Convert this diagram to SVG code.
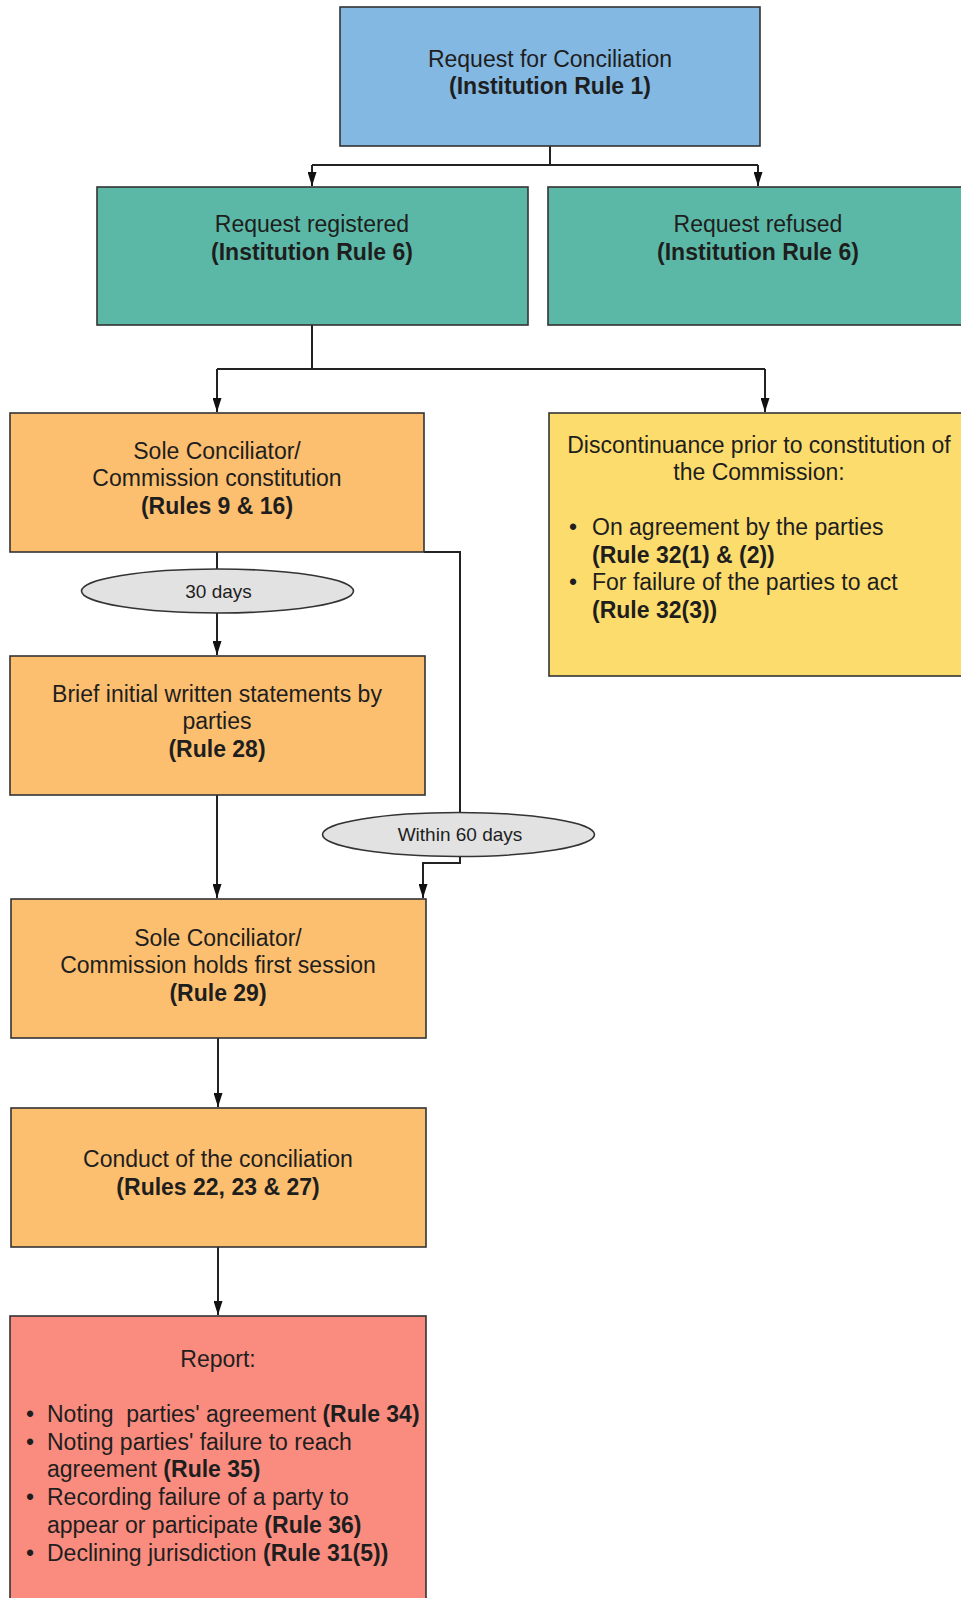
<svg xmlns="http://www.w3.org/2000/svg" width="961" height="1598" viewBox="0 0 961 1598">
<style>
.box{stroke:#333;stroke-width:1.6}
.blue{fill:#83b8e2}
.green{fill:#5cb8a6}
.orange{fill:#fcbf6f}
.yellow{fill:#fddc6e}
.red{fill:#f98c7e}
.ell{fill:#e2e2e2;stroke:#333;stroke-width:1.6}
text{font-family:"Liberation Sans",Arial,sans-serif;font-size:23px;fill:#1e1e1e}
.c{text-anchor:middle}
.b{font-weight:bold}
.sm{font-size:19px}
.conn path{fill:none;stroke:#222;stroke-width:2}
</style>
<defs>
<marker id="ah" markerUnits="userSpaceOnUse" markerWidth="14" markerHeight="9" refX="14" refY="4.5" orient="auto" viewBox="0 0 14 9">
<path d="M0,0 L14,4.5 L0,9 Z" fill="#111"/>
</marker>
</defs>

<g id="connectors" class="conn">
<path d="M550 146 V165"/>
<path d="M312 165 H758"/>
<path d="M312 165 V186" marker-end="url(#ah)"/>
<path d="M758 165 V186" marker-end="url(#ah)"/>
<path d="M312 325 V369"/>
<path d="M217 369 H765"/>
<path d="M217 369 V412" marker-end="url(#ah)"/>
<path d="M765 369 V412" marker-end="url(#ah)"/>
<path d="M217 552 V569"/>
<path d="M217 613 V655" marker-end="url(#ah)"/>
<path d="M217 795 V898" marker-end="url(#ah)"/>
<path d="M424 552 H460 V812"/>
<path d="M460 857 V863 H423 V898" marker-end="url(#ah)"/>
<path d="M218 1038 V1107" marker-end="url(#ah)"/>
<path d="M218 1247 V1315" marker-end="url(#ah)"/>
</g>

<g id="n-request">
<rect class="box blue" x="340" y="7" width="420" height="139"/>
<text class="c" x="550" y="67">Request for Conciliation</text>
<text class="c b" x="550" y="94">(Institution Rule 1)</text>
</g>

<g id="n-registered">
<rect class="box green" x="97" y="187" width="431" height="138"/>
<text class="c" x="312" y="232">Request registered</text>
<text class="c b" x="312" y="260">(Institution Rule 6)</text>
</g>

<g id="n-refused">
<rect class="box green" x="548" y="187" width="430" height="138"/>
<text class="c" x="758" y="232">Request refused</text>
<text class="c b" x="758" y="260">(Institution Rule 6)</text>
</g>

<g id="n-constitution">
<rect class="box orange" x="10" y="413" width="414" height="139"/>
<text class="c" x="217" y="459">Sole Conciliator/</text>
<text class="c" x="217" y="486">Commission constitution</text>
<text class="c b" x="217" y="514">(Rules 9 &amp; 16)</text>
</g>

<g id="n-discontinuance">
<rect class="box yellow" x="549" y="413" width="420" height="263"/>
<text class="c" x="759" y="453">Discontinuance prior to constitution of</text>
<text class="c" x="759" y="480">the Commission:</text>
<text class="c" x="573" y="535">•</text>
<text x="592" y="535">On agreement by the parties</text>
<text class="b" x="592" y="563">(Rule 32(1) &amp; (2))</text>
<text class="c" x="573" y="590">•</text>
<text x="592" y="590">For failure of the parties to act</text>
<text class="b" x="592" y="618">(Rule 32(3))</text>
</g>

<g id="l-30days">
<ellipse class="ell" cx="217.5" cy="591" rx="136" ry="22"/>
<text class="c sm" x="218.5" y="597.5">30 days</text>
</g>

<g id="n-statements">
<rect class="box orange" x="10" y="656" width="415" height="139"/>
<text class="c" x="217" y="702">Brief initial written statements by</text>
<text class="c" x="217" y="729">parties</text>
<text class="c b" x="217" y="757">(Rule 28)</text>
</g>

<g id="l-60days">
<ellipse class="ell" cx="458.5" cy="834.5" rx="136" ry="22"/>
<text class="c sm" x="460" y="841">Within 60 days</text>
</g>

<g id="n-session">
<rect class="box orange" x="11" y="899" width="415" height="139"/>
<text class="c" x="218" y="946">Sole Conciliator/</text>
<text class="c" x="218" y="973">Commission holds first session</text>
<text class="c b" x="218" y="1001">(Rule 29)</text>
</g>

<g id="n-conduct">
<rect class="box orange" x="11" y="1108" width="415" height="139"/>
<text class="c" x="218" y="1167">Conduct of the conciliation</text>
<text class="c b" x="218" y="1195">(Rules 22, 23 &amp; 27)</text>
</g>

<g id="n-report">
<rect class="box red" x="10" y="1316" width="416" height="300"/>
<text class="c" x="218" y="1367">Report:</text>
<text class="c" x="30" y="1422">•</text>
<text x="47" y="1422" xml:space="preserve">Noting  parties' agreement <tspan class="b">(Rule 34)</tspan></text>
<text class="c" x="30" y="1450">•</text>
<text x="47" y="1450">Noting parties' failure to reach</text>
<text x="47" y="1477">agreement <tspan class="b">(Rule 35)</tspan></text>
<text class="c" x="30" y="1505">•</text>
<text x="47" y="1505">Recording failure of a party to</text>
<text x="47" y="1533">appear or participate <tspan class="b">(Rule 36)</tspan></text>
<text class="c" x="30" y="1561">•</text>
<text x="47" y="1561">Declining jurisdiction <tspan class="b">(Rule 31(5))</tspan></text>
</g>
</svg>
